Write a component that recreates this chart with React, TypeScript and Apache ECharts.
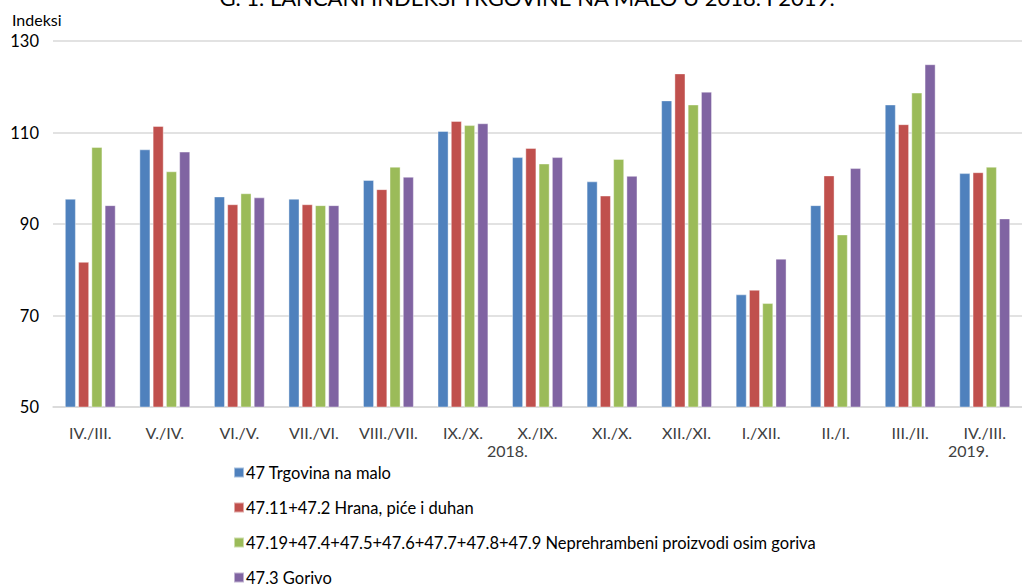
import React, { useEffect, useRef } from "react";
import * as echarts from "echarts";

const categories = ["IV./III.", "V./IV.", "VI./V.", "VII./VI.", "VIII./VII.", "IX./X.", "X./IX.", "XI./X.", "XII./XI.", "I./XII.", "II./I.", "III./II.", "IV./III."];
const seriesNames = [
  "47 Trgovina na malo",
  "47.11+47.2 Hrana, piće i duhan",
  "47.19+47.4+47.5+47.6+47.7+47.8+47.9 Neprehrambeni proizvodi osim goriva",
  "47.3 Gorivo",
];
const trgovina = [95.5, 106.3, 96.0, 95.5, 99.6, 110.3, 104.6, 99.3, 117.0, 74.6, 94.1, 116.1, 101.1];
const hrana = [81.7, 111.4, 94.3, 94.3, 97.6, 112.5, 106.6, 96.2, 122.9, 75.6, 100.6, 111.8, 101.3];
const neprehrambeni = [106.8, 101.5, 96.7, 94.1, 102.5, 111.6, 103.2, 104.2, 116.1, 72.7, 87.7, 118.7, 102.5];
const gorivo = [94.1, 105.8, 95.8, 94.1, 100.3, 112.0, 104.6, 100.5, 118.9, 82.4, 102.2, 124.9, 91.2];
const colors = ["#4f81bd", "#c0504d", "#9bbb59", "#8064a2"];
const yTicks = { min: 50, max: 130, interval: 20 };

const FONT = "Lato, 'Open Sans', sans-serif";

export default function App() {
  const ref = useRef<HTMLDivElement>(null);
  useEffect(() => {
    if (!ref.current) return;
    const chart = echarts.init(ref.current, undefined, { renderer: "svg" });
    const data = [trgovina, hrana, neprehrambeni, gorivo];
    chart.setOption({
      animation: false,
      textStyle: { fontFamily: FONT },
      title: {
        text: "G. 1. LANČANI INDEKSI TRGOVINE NA MALO U 2018. I 2019.",
        left: 527,
        textAlign: "center",
        top: -14,
        padding: 0,
        textStyle: { fontSize: 22, fontWeight: "normal", color: "#000", fontFamily: FONT },
      },
      legend: {
        orient: "vertical",
        left: 233,
        top: 464,
        height: 200,
        padding: 0,
        itemWidth: 10,
        itemHeight: 10,
        itemGap: 18,
        icon: "rect",
        data: seriesNames,
        textStyle: { fontSize: 16.5, lineHeight: 17, color: "#000", fontFamily: FONT, padding: [0, 0, 0, -3] },
      },
      grid: { left: 53, right: -12, top: 41, bottom: 180 },
      xAxis: {
        type: "category",
        data: categories,
        axisTick: { show: false },
        axisLine: { lineStyle: { color: "#d9d9d9", width: 1.5 } },
        axisLabel: { interval: 0, fontSize: 16, color: "#404040", margin: 17, fontFamily: FONT },
      },
      yAxis: {
        type: "value",
        min: yTicks.min,
        max: yTicks.max,
        interval: yTicks.interval,
        name: "Indeksi",
        nameLocation: "end",
        nameGap: 14,
        nameTextStyle: { fontSize: 16, color: "#000", align: "left", padding: [0, 0, 0, -41], fontFamily: FONT },
        axisLine: { show: false },
        axisTick: { show: false },
        axisLabel: { fontSize: 16.5, color: "#000", margin: 14, fontFamily: FONT },
        splitLine: { lineStyle: { color: "#d9d9d9", width: 1.5 } },
      },
      graphic: [
        { type: "text", left: 487, top: 442, style: { text: "2018.", fontSize: 16, fill: "#404040", fontFamily: FONT } },
        { type: "text", left: 948, top: 442, style: { text: "2019.", fontSize: 16, fill: "#404040", fontFamily: FONT } },
      ],
      series: seriesNames.map((n, i) => ({
        name: n,
        type: "bar",
        data: data[i],
        barGap: "22%",
        barCategoryGap: "32%",
        itemStyle: { color: colors[i], borderColor: "rgba(255,255,255,0.5)", borderWidth: 0.8 },
      })),
    });
    return () => chart.dispose();
  }, []);
  return <div ref={ref} style={{ position: "absolute", left: 0, top: 0, width: 1022, height: 587 }} />;
}
